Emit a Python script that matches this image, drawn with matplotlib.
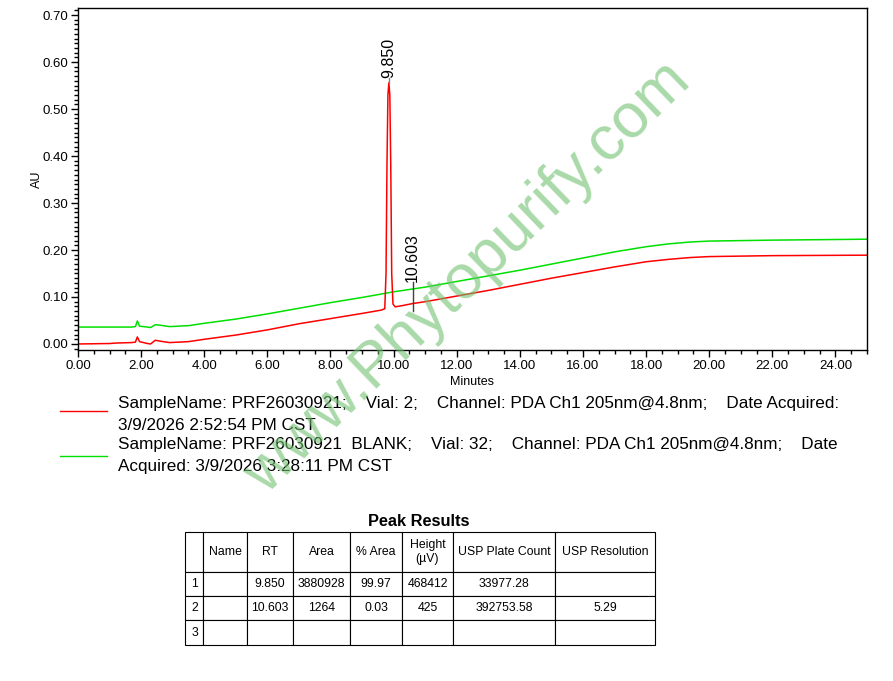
import numpy as np
import matplotlib.pyplot as plt
from matplotlib.ticker import MultipleLocator, FormatStrFormatter

plt.rcParams['font.family'] = ['Liberation Sans', 'DejaVu Sans']

# red trace: sample (time in min, AU)
red_t = [0.0, 1.0, 1.2, 1.7, 1.82, 1.88, 1.95, 2.2, 2.3, 2.45, 2.6, 2.9, 3.5, 4.0, 5.0, 6.0,
         7.0, 8.0, 9.0, 9.6, 9.72, 9.76, 9.79, 9.82, 9.85, 9.88, 9.91, 9.94, 9.98, 10.05,
         10.3, 10.6, 11.0, 12.0, 13.0, 14.0, 15.0, 16.0, 17.0, 18.0, 18.7, 19.4, 20.0, 22.0, 25.0]
red_au = [0.000, 0.001, 0.002, 0.003, 0.004, 0.015, 0.005, 0.001, 0.000, 0.008, 0.006, 0.003,
          0.005, 0.010, 0.019, 0.030, 0.043, 0.054, 0.065, 0.072, 0.075, 0.150, 0.380, 0.530,
          0.556, 0.530, 0.380, 0.150, 0.085, 0.079, 0.082, 0.086, 0.090, 0.102, 0.114, 0.127,
          0.140, 0.152, 0.164, 0.175, 0.180, 0.184, 0.186, 0.188, 0.189]

# green trace (blank)
green_t = [0.0, 1.7, 1.82, 1.88, 1.95, 2.2, 2.3, 2.45, 2.6, 2.9, 3.5, 4.0, 5.0, 6.0, 7.0, 8.0,
           9.0, 10.0, 11.0, 12.0, 13.0, 14.0, 15.0, 16.0, 17.0, 18.0, 18.7, 19.4, 20.0, 22.0, 25.0]
green_au = [0.036, 0.036, 0.037, 0.049, 0.038, 0.036, 0.035, 0.041, 0.040, 0.037, 0.039, 0.044,
            0.053, 0.064, 0.076, 0.088, 0.099, 0.111, 0.121, 0.133, 0.145, 0.157, 0.170, 0.183,
            0.196, 0.207, 0.213, 0.217, 0.219, 0.221, 0.223]

peak_rt = [9.850, 10.603]
peak_top = [0.556, 0.086]

legend_texts = [
    "SampleName: PRF26030921;    Vial: 2;    Channel: PDA Ch1 205nm@4.8nm;    Date Acquired:\n3/9/2026 2:52:54 PM CST",
    "SampleName: PRF26030921  BLANK;    Vial: 32;    Channel: PDA Ch1 205nm@4.8nm;    Date\nAcquired: 3/9/2026 3:28:11 PM CST",
]

col_labels = ["", "Name", "RT", "Area", "% Area", "Height\n(µV)", "USP Plate Count", "USP Resolution"]
table_rows = [
    ["1", "", "9.850", "3880928", "99.97", "468412", "33977.28", ""],
    ["2", "", "10.603", "1264", "0.03", "425", "392753.58", "5.29"],
    ["3", "", "", "", "", "", "", ""],
]
col_px = [185, 203, 247, 293, 350, 402, 453, 555, 655]

W, H = 893, 681
fig = plt.figure(figsize=(W / 100, H / 100), dpi=100)

ax = fig.add_axes([78 / W, 1 - 350 / H, (867 - 78) / W, (350 - 8) / H])
ax.plot(green_t, green_au, color="#00e000", lw=1.1)
ax.plot(red_t, red_au, color="#ff0000", lw=1.1)
ax.set_xlim(0, 25)
ax.set_ylim(-0.0128, 0.715)
ax.xaxis.set_major_locator(MultipleLocator(2))
ax.xaxis.set_minor_locator(MultipleLocator(0.5))
ax.yaxis.set_major_locator(MultipleLocator(0.1))
ax.yaxis.set_minor_locator(MultipleLocator(0.01))
ax.xaxis.set_major_formatter(FormatStrFormatter("%.2f"))
ax.yaxis.set_major_formatter(FormatStrFormatter("%.2f"))
ax.tick_params(which="major", length=5, width=1, labelsize=9.5, direction="out", pad=2)
ax.tick_params(which="minor", length=3, width=1, direction="out")
for s in ax.spines.values():
    s.set_linewidth(1)
ax.set_xlabel("Minutes", fontsize=9)
ax.xaxis.set_label_coords((472 - 78) / (867 - 78), -0.075)
ax.set_ylabel("AU", fontsize=9)
ax.yaxis.set_label_coords(-0.045, 0.5)

# peak labels
ax.plot([peak_rt[0], peak_rt[0]], [peak_top[0], peak_top[0] + 0.009], color="#808080", lw=1)
ax.text(peak_rt[0], peak_top[0] + 0.010, "9.850", rotation=90, ha="center", va="bottom", fontsize=11.5)
ax.plot([peak_rt[1], peak_rt[1]], [peak_top[1] - 0.016, peak_top[1] + 0.045], color="#404040", lw=1)
ax.text(peak_rt[1], peak_top[1] + 0.045, "10.603", rotation=90, ha="center", va="bottom", fontsize=11.5)

# legend
colors = ["#ff0000", "#00e000"]
line_y = [411, 456]
text_y = [396, 437]
for c, ly, ty, txt in zip(colors, line_y, text_y, legend_texts):
    fig.add_artist(plt.Line2D([60 / W, 107 / W], [1 - ly / H, 1 - ly / H], color=c, lw=1))
    fig.text(118 / W, 1 - ty / H, txt, fontsize=12.3, va="top", ha="left", linespacing=1.55)

# peak results table
fig.text(419 / W, 1 - 522 / H, "Peak Results", fontsize=11.8, fontweight="bold", ha="center", va="center")
tax = fig.add_axes([185 / W, 1 - 645 / H, (655 - 185) / W, (645 - 532) / H])
tax.axis("off")
widths = np.diff(col_px) / (col_px[-1] - col_px[0])
tbl = tax.table(cellText=table_rows, colLabels=col_labels, colWidths=widths,
                cellLoc="center", bbox=[0, 0, 1, 1])
tbl.auto_set_font_size(False)
tbl.set_fontsize(8.8)
row_h = [40, 24, 24, 25]
for (r, c), cell in tbl.get_celld().items():
    cell.set_height(row_h[r] / 113)
    cell.set_linewidth(0.8)
    cell.PAD = 0.05
    if c == 0:
        cell.get_text().set_ha("left")
        cell.PAD = 0.35

# watermark
fig.text(468 / W, 1 - 278 / H, "www.Phytopurify.com", fontsize=45, rotation=44,
         color="#70c070", alpha=0.6, ha="center", va="center", rotation_mode="anchor")

fig.savefig("out.png", dpi=100)
